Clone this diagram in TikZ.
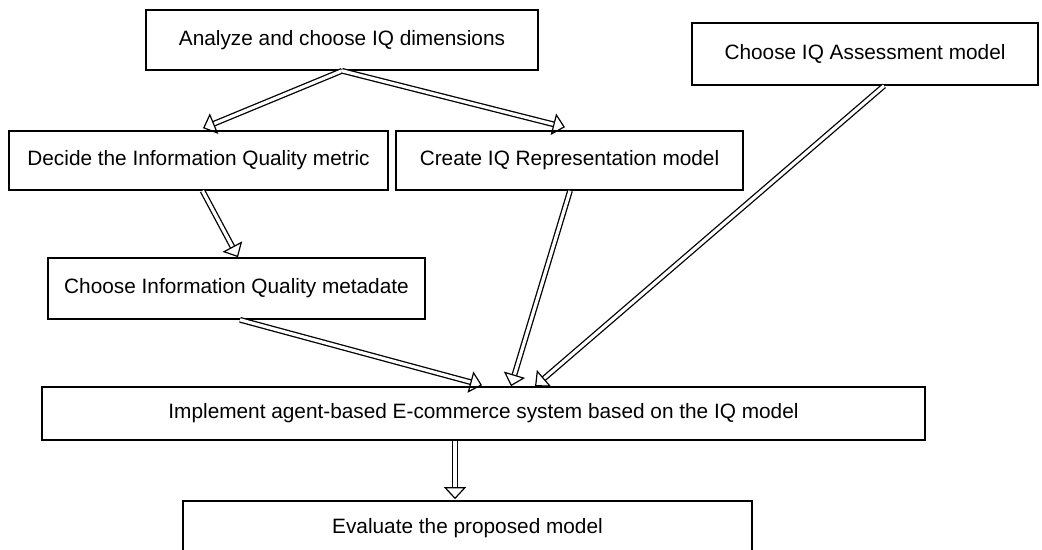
\documentclass[tikz,border=0pt]{standalone}
\usepackage{fontspec}
\setmainfont{Liberation Sans}
\usetikzlibrary{arrows.meta,calc}
\begin{document}
\begin{tikzpicture}[x=0.5pt,y=-0.5pt,
  stepbox/.style={draw, line width=0.8pt, inner sep=0pt, font=\fontsize{10.4pt}{12pt}\selectfont},
  dbl/.style={double, double distance=1.6pt, line width=0.65pt,
    -{Triangle[open, length=6pt, width=11pt, line width=0.6pt]}}]
\useasboundingbox (0,0) rectangle (1042,550);
\fill[white] (0,0) rectangle (1042,550);

% process steps
\node[stepbox, minimum width=196pt, minimum height=30pt] (A) at (342,40) {Analyze and choose IQ dimensions};
\node[stepbox, minimum width=189.5pt, minimum height=29.5pt] (B) at (198.5,160.5) {Decide the Information Quality metric};
\node[stepbox, minimum width=173.5pt, minimum height=29.5pt] (C) at (569.5,160.5) {Create IQ Representation model};
\node[stepbox, minimum width=173pt, minimum height=31pt] (D) at (865,54) {Choose IQ Assessment model};
\node[stepbox, minimum width=188.5pt, minimum height=30.5pt] (E) at (236.5,288.5) {Choose Information Quality metadate};
\node[stepbox, minimum width=441.5pt, minimum height=26.5pt] (F) at (483.5,413.5) {Implement agent-based E-commerce system based on the IQ model};
\node[stepbox, minimum width=284.5pt, minimum height=27.5pt] (G) at (467.5,528.5) {Evaluate the proposed model};

% flow between the steps
\draw[dbl] (A.south) -- ($(B.north)+(4.5,-2)$);
\draw[dbl] (A.south) -- ($(C.north)+(-4.5,-3)$);
\draw[dbl] ($(B.south)+(4,0)$) -- ($(E.north)+(1.5,0)$);
\draw[dbl] ($(E.south)+(3.5,0)$) -- ($(F.north)+(-1.5,-1)$);
\draw[dbl] ($(C.south)+(0.5,0)$) -- ($(F.north)+(27.5,0)$);
\draw[dbl] ($(D.south)+(19,0)$) -- ($(F.north)+(51.5,0)$);
\draw[dbl] ($(F.south)+(-28.5,0)$) -- ($(G.north)+(-12.5,-1)$);
\end{tikzpicture}
\end{document}
